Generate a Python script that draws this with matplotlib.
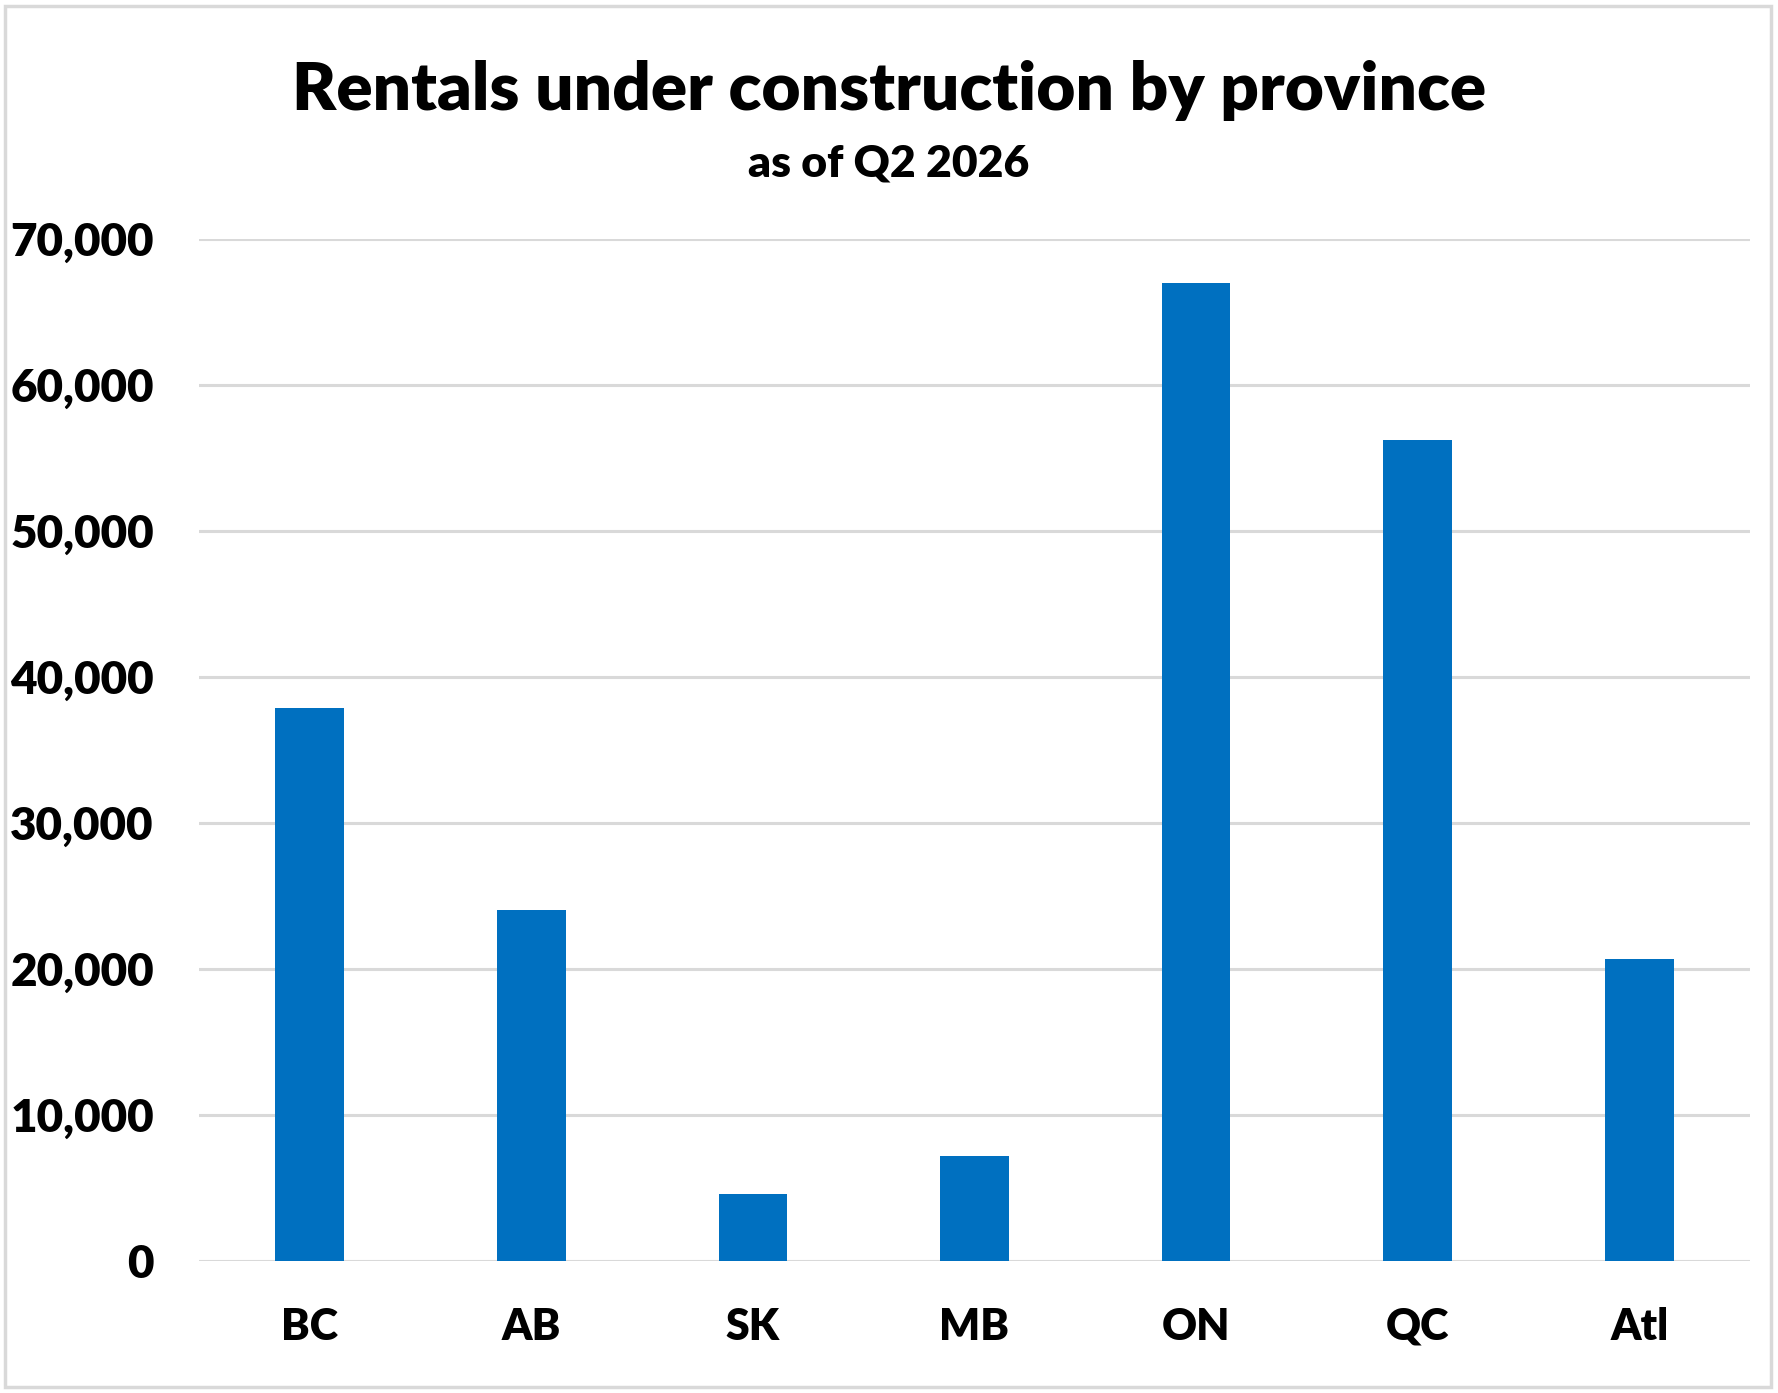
import matplotlib
matplotlib.use("Agg")
import matplotlib.pyplot as plt
from matplotlib.patches import Rectangle
from matplotlib.ticker import FuncFormatter, MultipleLocator

provinces = ["BC", "AB", "SK", "MB", "ON", "QC", "Atl"]
units = [37900, 24050, 4600, 7200, 66970, 56230, 20700]

title = "Rentals under construction by province"
subtitle = "as of Q2 2026"

plt.rcParams['font.family'] = ['Lato', 'DejaVu Sans']
WEIGHT = "heavy"

W, H = 1778, 1393
fig = plt.figure(figsize=(W / 100, H / 100), dpi=100)
ax = fig.add_axes([199 / W, 1 - 1261 / H, (1750 - 199) / W, (1261 - 239) / H])

x = list(range(len(provinces)))
ax.bar(x, units, width=0.31, color="#0070C0", zorder=3)
ax.set_xlim(-0.5, len(provinces) - 0.5)
ax.set_ylim(0, 70000)
ax.yaxis.set_major_locator(MultipleLocator(10000))
ax.yaxis.set_major_formatter(FuncFormatter(lambda v, p: f"{int(v):,}"))
ax.set_xticks(x)
ax.set_xticklabels(provinces)
ax.grid(axis="y", color="#d9d9d9", linewidth=2.2, zorder=0)
ax.set_axisbelow(True)
for s in ax.spines.values():
    s.set_visible(False)
ax.tick_params(axis="x", length=0, labelsize=31, pad=33)
ax.tick_params(axis="y", length=0, labelsize=33, pad=32.5)
for lab in ax.get_xticklabels() + ax.get_yticklabels():
    lab.set_fontweight(WEIGHT)

fig.text(0.5, 1 - 110 / H, title, ha="center", va="baseline", fontsize=48.5, fontweight=WEIGHT)
fig.text(0.5, 1 - 177 / H, subtitle, ha="center", va="baseline", fontsize=32, fontweight=WEIGHT)

fig.patches.append(Rectangle((5 / W, 6 / H), (1771 - 5) / W, (1387 - 6) / H,
                             transform=fig.transFigure, fill=False,
                             edgecolor="#d9d9d9", linewidth=2.5))

fig.savefig("out.png", dpi=100, facecolor="white")
